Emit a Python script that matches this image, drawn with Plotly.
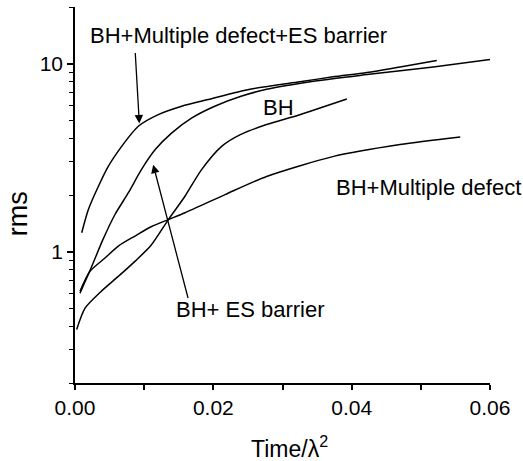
import plotly.graph_objects as go
import math

# Data
t_md_es = [0.00097, 0.00192, 0.00337, 0.00481, 0.00675, 0.00915, 0.01204, 0.01543, 0.01927, 0.0253, 0.0325, 0.0373, 0.0422, 0.0470, 0.0523]
rms_md_es = [1.26, 1.67, 2.22, 2.84, 3.63, 4.64, 5.35, 5.93, 6.44, 7.30, 8.00, 8.50, 8.96, 9.60, 10.4]

t_es = [0.00072, 0.0024, 0.0040, 0.0058, 0.0077, 0.0096, 0.0116, 0.0140, 0.0169, 0.0202, 0.0240, 0.0277, 0.0350, 0.0422, 0.0518, 0.0600]
rms_es = [0.60, 0.83, 1.15, 1.58, 2.05, 2.73, 3.49, 4.28, 5.14, 5.93, 6.70, 7.30, 8.10, 8.74, 9.60, 10.5]

t_bh = [0.00024, 0.00145, 0.0037, 0.0063, 0.0087, 0.0110, 0.0135, 0.0159, 0.0183, 0.0212, 0.0239, 0.0277, 0.0325, 0.0393]
rms_bh = [0.385, 0.50, 0.61, 0.74, 0.89, 1.08, 1.48, 1.97, 2.73, 3.63, 4.19, 4.74, 5.35, 6.48]

t_md = [0.00072, 0.00217, 0.00434, 0.00626, 0.00867, 0.01108, 0.01349, 0.0159, 0.0217, 0.0277, 0.0374, 0.0470, 0.0557]
rms_md = [0.615, 0.786, 0.925, 1.07, 1.21, 1.36, 1.48, 1.61, 2.01, 2.51, 3.21, 3.71, 4.07]

labels = ["BH+Multiple defect+ES barrier", "BH", "BH+Multiple defect", "BH+ ES barrier"]
label_t = [0.0019, 0.0294, 0.0375, 0.0143]
label_rms = [14.1, 5.83, 2.19, 0.49]
label_anchor = ["left", "center", "left", "left"]

arrow_tail_t = [0.0087, 0.0164]
arrow_tail_rms = [11.6, 0.556]
arrow_tip_t = [0.0093, 0.0113]
arrow_tip_rms = [4.80, 2.90]

x_major = [0.0, 0.02, 0.04, 0.06]
x_major_text = ["0.00", "0.02", "0.04", "0.06"]
x_minor = [0.01, 0.03, 0.05]
y_major = [1, 10]
y_major_text = ["1", "10"]
y_minor = [0.2, 0.3, 0.4, 0.5, 0.6, 0.7, 0.8, 0.9, 2, 3, 4, 5, 6, 7, 8, 9, 20]

FONT = "Arial, Liberation Sans, sans-serif"

fig = go.Figure()
for tx, ry in [(t_md_es, rms_md_es), (t_es, rms_es), (t_bh, rms_bh), (t_md, rms_md)]:
    fig.add_trace(go.Scatter(x=tx, y=ry, mode="lines",
                             line=dict(color="black", width=1.5, shape="spline", smoothing=0.7),
                             showlegend=False, hoverinfo="skip"))

annotations = []
for txt, tx, ry, anc in zip(labels, label_t, label_rms, label_anchor):
    annotations.append(dict(x=tx, y=math.log10(ry), xref="x", yref="y", text=txt,
                            showarrow=False, xanchor=anc, yanchor="middle",
                            font=dict(family=FONT, size=22, color="black")))
for x0, y0, x1, y1 in zip(arrow_tail_t, arrow_tail_rms, arrow_tip_t, arrow_tip_rms):
    annotations.append(dict(x=x1, y=math.log10(y1), ax=x0, ay=math.log10(y0),
                            xref="x", yref="y", axref="x", ayref="y", text="",
                            showarrow=True, arrowhead=2, arrowsize=1.3, arrowwidth=1.3,
                            arrowcolor="black"))
annotations.append(dict(x=-0.137, y=0.449, xref="paper", yref="paper", text="rms",
                        textangle=-90, showarrow=False, xanchor="center", yanchor="middle",
                        font=dict(family=FONT, size=27, color="black")))
annotations.append(dict(x=0.516, y=-0.170, xref="paper", yref="paper", text="Time/λ<sup>2</sup>",
                        showarrow=False, xanchor="center", yanchor="middle",
                        font=dict(family=FONT, size=23, color="black")))

fig.update_layout(
    width=523, height=461,
    margin=dict(l=75, r=33, t=7, b=78),
    paper_bgcolor="white", plot_bgcolor="white",
    font=dict(family=FONT, size=21, color="black"),
    annotations=annotations,
    xaxis=dict(range=[0, 0.06], showgrid=False, zeroline=False,
               showline=True, linecolor="black", linewidth=1.5,
               ticks="outside", ticklen=5, tickwidth=1.5, tickcolor="black",
               tickvals=x_major, ticktext=x_major_text,
               tickfont=dict(family=FONT, size=21, color="black"),
               minor=dict(tickvals=x_minor, ticks="outside", ticklen=5,
                          tickwidth=1.5, tickcolor="black", showgrid=False)),
    yaxis=dict(type="log", range=[math.log10(0.2), math.log10(20)], showgrid=False,
               zeroline=False, showline=True, linecolor="black", linewidth=1.5,
               ticks="outside", ticklen=6, tickwidth=1.5, tickcolor="black",
               tickvals=y_major, ticktext=y_major_text,
               tickfont=dict(family=FONT, size=21, color="black"),
               minor=dict(tickvals=y_minor, ticks="outside", ticklen=4,
                          tickwidth=1.2, tickcolor="black", showgrid=False)),
)

fig.write_html("out.html")
